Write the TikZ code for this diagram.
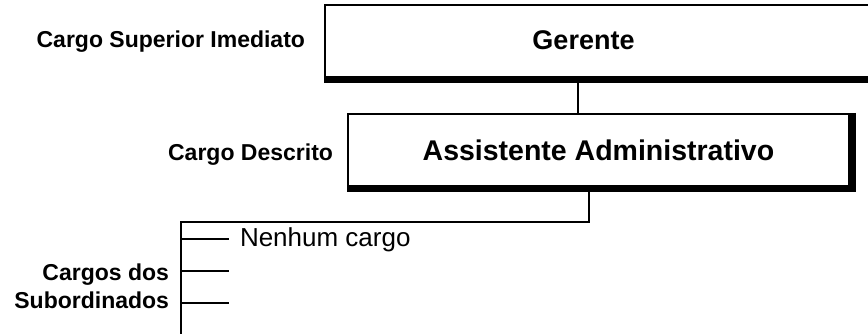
\documentclass[tikz,border=0pt]{standalone}
\usepackage{fontspec}
\setmainfont{Liberation Sans}
\usetikzlibrary{positioning}

\begin{document}
\begin{tikzpicture}[x=1pt,y=-1pt,line width=2pt,
    box/.style={draw, fill=white, line width=2pt, inner sep=0pt},
    tag/.style={font=\fontsize{23}{27.7}\selectfont\bfseries, inner sep=0pt, align=right},
    shadowline/.style={line width=5.5pt}]
        \useasboundingbox (0,0) rectangle (868,334);

        % boxes
        \node[box, minimum width=580, minimum height=72] (ger) at (615,41) {};
        \node[font=\fontsize{27}{30}\selectfont\bfseries, inner sep=0pt, anchor=base] (gertxt) at (583.5,50) {Gerente};
        \node[box, minimum width=501, minimum height=72,
              font=\fontsize{28.5}{32}\selectfont\bfseries] (ass) at (598.5,150) {Assistente Administrativo};

        \draw[shadowline] ([yshift=-2.75pt]ger.south west) -- ([yshift=-2.75pt]ger.south east);
        \draw[shadowline] ([xshift=2.75pt]ass.north east) |- ([yshift=-2.75pt]ass.south west);

        % labels
        \node[tag, anchor=base east] (supt) at (306,47.3) {Cargo Superior Imediato};
        \node[tag] (desct) [base left=13pt of ass] {Cargo Descrito};
        \node[tag, anchor=east] (subt) at (170,286) {Cargos dos\\Subordinados};

        % connectors
        \coordinate (d1) at (578,0);
        \coordinate (d2) at (589,221.5);
        \coordinate (trunk) at (181,340);
        \draw (d1 |- ger.south) -- (d1 |- ass.north);
        \draw (d2 |- ass.south) -- (d2) -| (trunk);

        \foreach \y [count=\i] in {239,271,303}
          \coordinate (br\i) at (229,\y);
        \foreach \i in {1,2,3}
          \draw (br\i -| trunk) -- (br\i);

        \node[font=\fontsize{26}{30}\selectfont, inner sep=0pt, anchor=base west] (nenhum) at (239,246.7) {Nenhum cargo};
\end{tikzpicture}
\end{document}
